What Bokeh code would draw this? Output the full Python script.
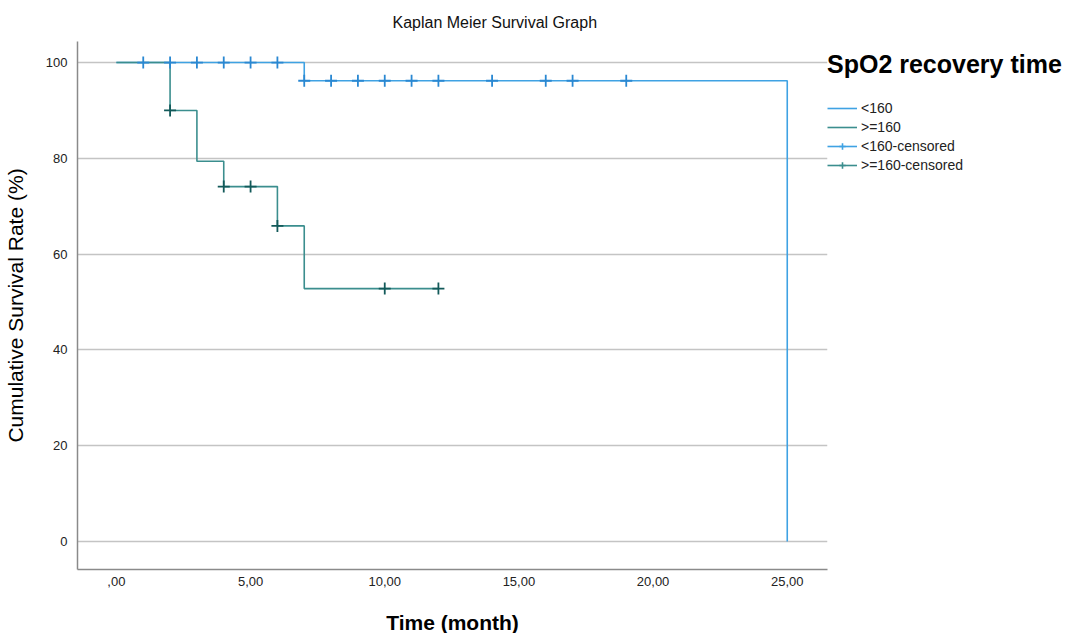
from bokeh.plotting import figure
from bokeh.models import FixedTicker, Legend, LegendItem, Range1d
from bokeh.embed import file_html
from bokeh.resources import INLINE

# <160 group: KM step curve
lt_time = [0, 7, 25, 25]
lt_surv = [100, 96.2, 96.2, 0]
# censored points <160
lt_cens_time = [1, 2, 3, 4, 5, 6, 7, 8, 9, 10, 11, 12, 14, 16, 17, 19]
lt_cens_surv = [100, 100, 100, 100, 100, 100, 96.2, 96.2, 96.2, 96.2, 96.2, 96.2, 96.2, 96.2, 96.2, 96.2]

# >=160 group
ge_time = [0, 2, 3, 4, 6, 7, 12]
ge_surv = [100, 90.0, 79.4, 74.1, 65.9, 52.8, 52.8]
ge_cens_time = [2, 4, 5, 6, 10, 12]
ge_cens_surv = [90.0, 74.1, 74.1, 65.9, 52.8, 52.8]

x_ticks = [0, 5, 10, 15, 20, 25]
x_tick_labels = [",00", "5,00", "10,00", "15,00", "20,00", "25,00"]
y_ticks = [0, 20, 40, 60, 80, 100]

BLUE = "#3fa2e3"
BLUE_MK = "#2a88d2"
TEAL = "#3b8e8e"
TEAL_MK = "#135a5a"
FONT = "Liberation Sans"

p = figure(frame_width=750, frame_height=528, output_backend="svg", toolbar_location=None,
           x_range=Range1d(-1.45, 26.5), y_range=Range1d(-5.85, 104.4),
           min_border_left=70, min_border_right=0, min_border_top=40, min_border_bottom=50)

p.title.text = "Kaplan Meier Survival Graph"
p.title.align = "left"
p.title.offset = 315
p.title.standoff = 22
p.title.text_font = FONT
p.title.text_font_size = "16px"
p.title.text_font_style = "normal"
p.title.text_color = "#111111"

p.outline_line_color = None
p.xgrid.grid_line_color = None
p.ygrid.grid_line_color = "#c4c4c4"
p.ygrid.grid_line_width = 1.5
p.yaxis.ticker = FixedTicker(ticks=y_ticks)
p.xaxis.ticker = FixedTicker(ticks=x_ticks)
p.xaxis.major_label_overrides = {t: l for t, l in zip(x_ticks, x_tick_labels)}

for ax in (p.xaxis[0], p.yaxis[0]):
    ax.axis_line_color = "#8a8a8a"
    ax.axis_line_width = 1.5
    ax.major_tick_line_color = None
    ax.minor_tick_line_color = None
    ax.major_label_text_font = FONT
    ax.major_label_text_font_size = "13px"
    ax.major_label_text_color = "#222222"
    ax.axis_label_text_font = FONT
    ax.axis_label_text_color = "#000000"

p.yaxis.axis_label = "Cumulative Survival Rate (%)"
p.yaxis.axis_label_text_font_size = "21px"
p.yaxis.axis_label_text_font_style = "normal"
p.yaxis.major_label_standoff = 4
p.yaxis.axis_label_standoff = 16

p.xaxis.axis_label = "Time (month)"
p.xaxis.axis_label_text_font_size = "21px"
p.xaxis.axis_label_text_font_style = "bold"
p.xaxis.major_label_standoff = 1
p.xaxis.axis_label_standoff = 22

r_lt = p.step(lt_time, lt_surv, mode="after", line_color=BLUE, line_width=1.6)
r_ge = p.step(ge_time, ge_surv, mode="after", line_color=TEAL, line_width=1.6)
r_ltc = p.scatter(lt_cens_time, lt_cens_surv, marker="cross", size=12, line_color=BLUE_MK, line_width=1.8)
r_gec = p.scatter(ge_cens_time, ge_cens_surv, marker="cross", size=12, line_color=TEAL_MK, line_width=1.8)

# legend-only renderers (placed outside the visible range)
lg_lt = p.line([-100, -99], [-100, -100], line_color=BLUE, line_width=1.6)
lg_ge = p.line([-100, -99], [-100, -100], line_color=TEAL, line_width=1.6)
lg_ltc = p.scatter([-100], [-100], marker="cross", size=22, line_color=BLUE, line_width=1.6)
lg_gec = p.scatter([-100], [-100], marker="cross", size=22, line_color=TEAL, line_width=1.6)

legend = Legend(items=[
    LegendItem(label="<160", renderers=[r_lt]),
    LegendItem(label=">=160", renderers=[r_ge]),
    LegendItem(label="<160-censored", renderers=[lg_lt, lg_ltc]),
    LegendItem(label=">=160-censored", renderers=[lg_ge, lg_gec]),
], location=(0, 396))
legend.title = "SpO2 recovery time"
legend.title_text_font = FONT
legend.title_text_font_size = "25px"
legend.title_text_font_style = "bold"
legend.title_text_color = "#000000"
legend.title_standoff = 21
legend.label_text_font = FONT
legend.label_text_font_size = "14px"
legend.label_text_color = "#222222"
legend.glyph_width = 30
legend.glyph_height = 16
legend.label_standoff = 4
legend.spacing = 3
legend.padding = 4
legend.margin = 0
legend.border_line_color = None
legend.background_fill_alpha = 0
p.add_layout(legend, "right")

open("out.html", "w").write(file_html(p, INLINE))
